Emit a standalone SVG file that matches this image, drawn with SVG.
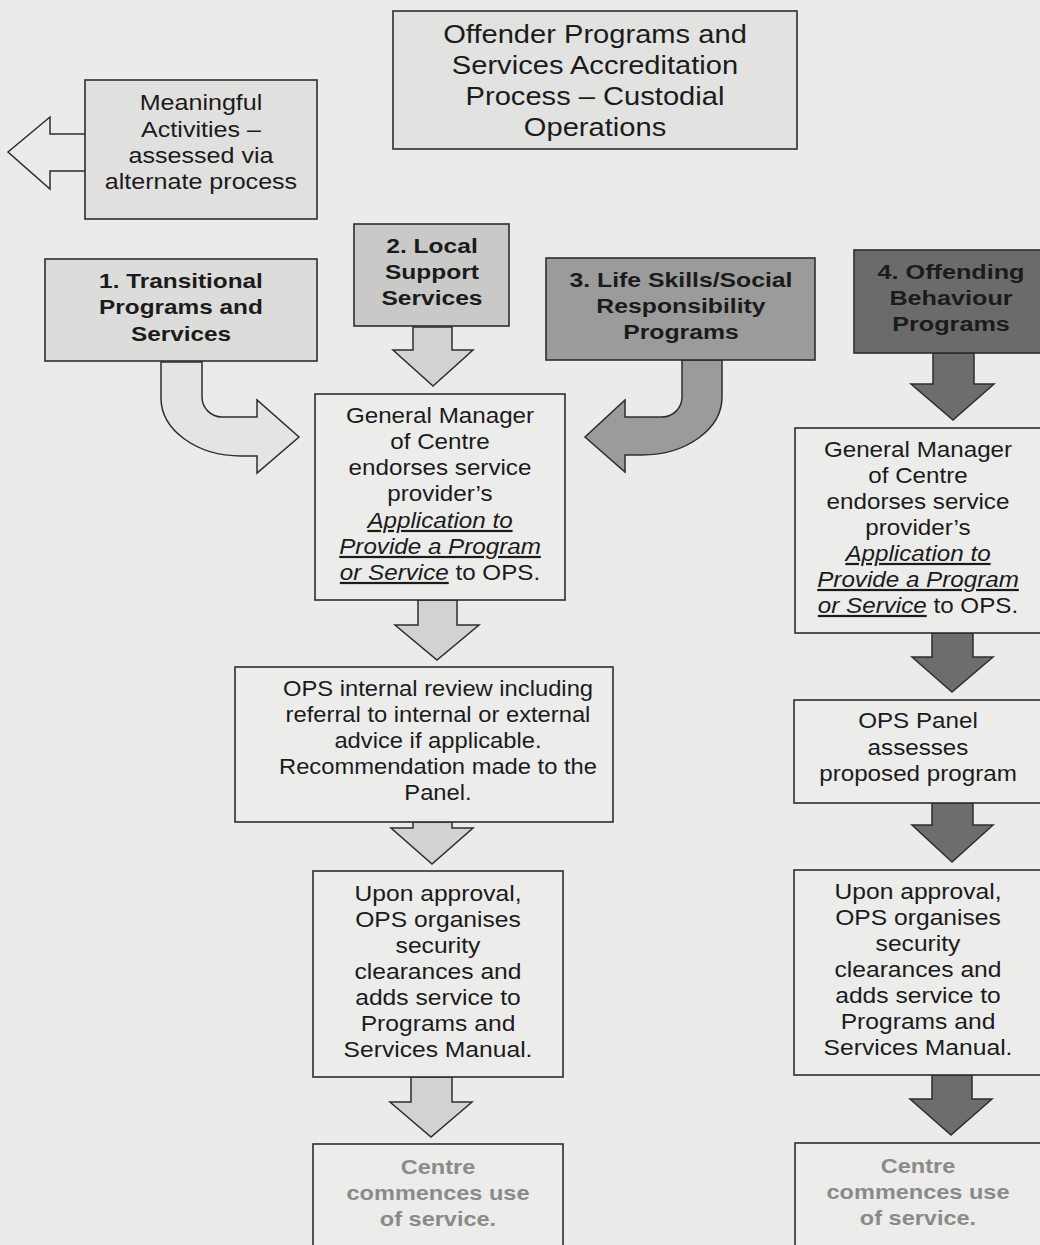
<svg xmlns="http://www.w3.org/2000/svg" width="1040" height="1245" viewBox="0 0 1040 1245">
<style>
.bg{fill:#ebebea}
.box{stroke:#2e2e2e;stroke-width:1.6}
.arr{stroke:#2e2e2e;stroke-width:1.5;stroke-linejoin:miter}
text{font-family:"Liberation Sans",Arial,sans-serif;text-anchor:middle;fill:#1b1b1b}
.t26{font-size:26px}
.t22{font-size:22px}
.b21{font-size:21px;font-weight:bold}
.dim{fill:#8a8a8a}
.iu{font-style:italic;text-decoration:underline}
</style>
<rect class="bg" x="0" y="0" width="1040" height="1245"/>

<g id="connectors">
  <!-- Meaningful hollow arrow left -->
  <path class="arr" fill="#ebebea" d="M85,134 H50 V117 L8,152 L50,189 V171 H85"/>
  <!-- box1 curved arrow -->
  <path class="arr" fill="#e4e4e3" d="M161,362 V398 A80,58 0 0 0 241,456 H257 V473 L299,437 L257,400 V417 H222 A20,20 0 0 1 202,397 V362 Z"/>
  <!-- box2 down arrow -->
  <path class="arr" fill="#d2d2d1" d="M413,327 V350 H393 L433,386 L473,350 H452 V327 Z"/>
  <!-- box3 curved arrow -->
  <path class="arr" fill="#9b9b9b" d="M682,360 V397 A20,20 0 0 1 662,417 H625 V400 L585,437 L625,472 V455 H642 A80,58 0 0 0 722,397 V360 Z"/>
  <!-- box4 down arrow -->
  <path class="arr" fill="#6d6d6d" d="M933,353 V384 H911 L953,420 L994,384 H974 V353 Z"/>
  <!-- left column arrows -->
  <path class="arr" fill="#d2d2d1" d="M418,600 V625 H395 L437,660 L479,625 H457 V600 Z"/>
  <path class="arr" fill="#d2d2d1" d="M413,822 V828 H391 L432,864 L473,828 H452 V822 Z"/>
  <path class="arr" fill="#d2d2d1" d="M411,1077 V1102 H390 L431,1137 L472,1102 H452 V1077 Z"/>
  <!-- right column arrows -->
  <path class="arr" fill="#6d6d6d" d="M932,633 V657 H912 L952,692 L993,657 H973 V633 Z"/>
  <path class="arr" fill="#6d6d6d" d="M932,803 V825 H912 L952,862 L993,825 H973 V803 Z"/>
  <path class="arr" fill="#6d6d6d" d="M932,1075 V1099 H910 L951,1135 L992,1099 H972 V1075 Z"/>
</g>

<g id="title">
  <rect class="box" x="393" y="11" width="404" height="138" fill="#e2e2e1"/>
  <g transform="translate(595,0) scale(1.12,1)">
    <text class="t26" x="0" y="43">Offender Programs and</text>
    <text class="t26" x="0" y="74">Services Accreditation</text>
    <text class="t26" x="0" y="105">Process – Custodial</text>
    <text class="t26" x="0" y="136">Operations</text>
  </g>
</g>

<g id="meaningful">
  <rect class="box" x="85" y="80" width="232" height="139" fill="#e0e0df"/>
  <g transform="translate(201,0) scale(1.14,1)">
    <text class="t22" x="0" y="110">Meaningful</text>
    <text class="t22" x="0" y="137">Activities –</text>
    <text class="t22" x="0" y="163">assessed via</text>
    <text class="t22" x="0" y="189">alternate process</text>
  </g>
</g>

<g id="box1">
  <rect class="box" x="45" y="259" width="272" height="102" fill="#dcdcdb"/>
  <g transform="translate(181,0) scale(1.16,1)">
    <text class="b21" x="0" y="288">1. Transitional</text>
    <text class="b21" x="0" y="314">Programs and</text>
    <text class="b21" x="0" y="341">Services</text>
  </g>
</g>

<g id="box2">
  <rect class="box" x="354" y="224" width="155" height="102" fill="#c9c9c8"/>
  <g transform="translate(432,0) scale(1.17,1)">
    <text class="b21" x="0" y="253">2. Local</text>
    <text class="b21" x="0" y="279">Support</text>
    <text class="b21" x="0" y="305">Services</text>
  </g>
</g>

<g id="box3">
  <rect class="box" x="546" y="258" width="269" height="102" fill="#9b9b9b"/>
  <g transform="translate(681,0) scale(1.18,1)">
    <text class="b21" x="0" y="287">3. Life Skills/Social</text>
    <text class="b21" x="0" y="313">Responsibility</text>
    <text class="b21" x="0" y="339">Programs</text>
  </g>
</g>

<g id="box4">
  <rect class="box" x="854" y="250" width="200" height="103" fill="#6b6b6b"/>
  <g transform="translate(951,0) scale(1.2,1)">
    <text class="b21" x="0" y="279" fill="#2a2a2a">4. Offending</text>
    <text class="b21" x="0" y="305" fill="#2a2a2a">Behaviour</text>
    <text class="b21" x="0" y="331" fill="#2a2a2a">Programs</text>
  </g>
</g>

<g id="gm-left">
  <rect class="box" x="315" y="394" width="250" height="206" fill="#ececeb"/>
  <g transform="translate(440,0) scale(1.1,1)">
    <text class="t22" x="0" y="423">General Manager</text>
    <text class="t22" x="0" y="449">of Centre</text>
    <text class="t22" x="0" y="475">endorses service</text>
    <text class="t22" x="0" y="501">provider’s</text>
    <text class="t22" x="0" y="528"><tspan class="iu">Application to</tspan></text>
    <text class="t22" x="0" y="554"><tspan class="iu">Provide a Program</tspan></text>
    <text class="t22" x="0" y="580"><tspan class="iu">or Service</tspan> to OPS.</text>
  </g>
</g>

<g id="ops-review">
  <rect class="box" x="235" y="667" width="378" height="155" fill="#ececeb"/>
  <g transform="translate(438,0) scale(1.08,1)">
    <text class="t22" x="0" y="696">OPS internal review including</text>
    <text class="t22" x="0" y="722">referral to internal or external</text>
    <text class="t22" x="0" y="748">advice if applicable.</text>
    <text class="t22" x="0" y="774">Recommendation made to the</text>
    <text class="t22" x="0" y="800">Panel.</text>
  </g>
</g>

<g id="upon-left">
  <rect class="box" x="313" y="871" width="250" height="206" fill="#ececeb"/>
  <g transform="translate(438,0) scale(1.12,1)">
    <text class="t22" x="0" y="901">Upon approval,</text>
    <text class="t22" x="0" y="927">OPS organises</text>
    <text class="t22" x="0" y="953">security</text>
    <text class="t22" x="0" y="979">clearances and</text>
    <text class="t22" x="0" y="1005">adds service to</text>
    <text class="t22" x="0" y="1031">Programs and</text>
    <text class="t22" x="0" y="1057">Services Manual.</text>
  </g>
</g>

<g id="centre-left">
  <rect class="box" x="313" y="1144" width="250" height="110" fill="#ececeb"/>
  <g transform="translate(438,0) scale(1.12,1)">
    <text class="b21 dim" x="0" y="1174">Centre</text>
    <text class="b21 dim" x="0" y="1200">commences use</text>
    <text class="b21 dim" x="0" y="1226">of service.</text>
  </g>
</g>

<g id="gm-right">
  <rect class="box" x="795" y="428" width="255" height="205" fill="#ececeb"/>
  <g transform="translate(918,0) scale(1.1,1)">
    <text class="t22" x="0" y="457">General Manager</text>
    <text class="t22" x="0" y="483">of Centre</text>
    <text class="t22" x="0" y="509">endorses service</text>
    <text class="t22" x="0" y="535">provider’s</text>
    <text class="t22" x="0" y="561"><tspan class="iu">Application to</tspan></text>
    <text class="t22" x="0" y="587"><tspan class="iu">Provide a Program</tspan></text>
    <text class="t22" x="0" y="613"><tspan class="iu">or Service</tspan> to OPS.</text>
  </g>
</g>

<g id="ops-panel">
  <rect class="box" x="794" y="700" width="256" height="103" fill="#ececeb"/>
  <g transform="translate(918,0) scale(1.1,1)">
    <text class="t22" x="0" y="728">OPS Panel</text>
    <text class="t22" x="0" y="755">assesses</text>
    <text class="t22" x="0" y="781">proposed program</text>
  </g>
</g>

<g id="upon-right">
  <rect class="box" x="794" y="870" width="256" height="205" fill="#ececeb"/>
  <g transform="translate(918,0) scale(1.12,1)">
    <text class="t22" x="0" y="899">Upon approval,</text>
    <text class="t22" x="0" y="925">OPS organises</text>
    <text class="t22" x="0" y="951">security</text>
    <text class="t22" x="0" y="977">clearances and</text>
    <text class="t22" x="0" y="1003">adds service to</text>
    <text class="t22" x="0" y="1029">Programs and</text>
    <text class="t22" x="0" y="1055">Services Manual.</text>
  </g>
</g>

<g id="centre-right">
  <rect class="box" x="795" y="1143" width="255" height="111" fill="#ececeb"/>
  <g transform="translate(918,0) scale(1.12,1)">
    <text class="b21 dim" x="0" y="1173">Centre</text>
    <text class="b21 dim" x="0" y="1199">commences use</text>
    <text class="b21 dim" x="0" y="1225">of service.</text>
  </g>
</g>
</svg>
